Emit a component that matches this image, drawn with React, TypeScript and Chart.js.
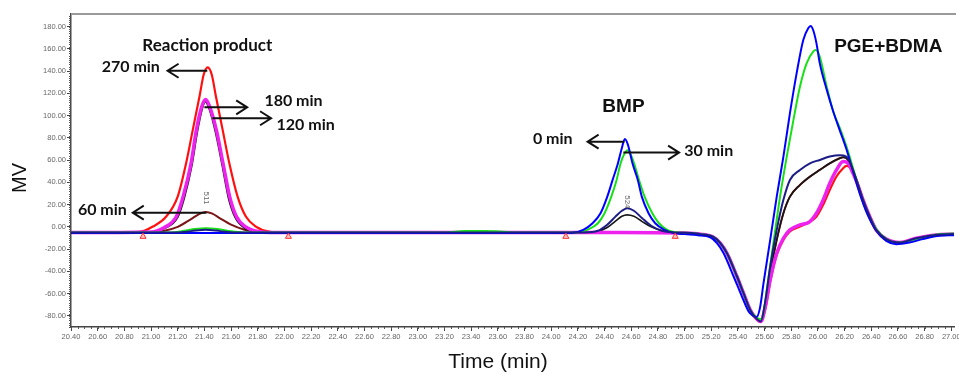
import React, { useEffect, useRef } from 'react';
import { Chart, registerables } from 'chart.js';

Chart.register(...registerables);

type Pt = [number, number];

// ---- Chromatogram traces: [time (min), signal (mV)] ----
const trace0min: Pt[] = [
  [20.4, -5.5], [21.0, -5.5], [21.4, -5.4], [21.8, -5.5], [22.4, -5.5], [23.0, -5.5], [23.6, -5.4], [24.0, -5.5],
  [24.15, -5.5], [24.24, -2.7], [24.31, 3.3], [24.37, 12.3], [24.42, 27], [24.46, 42], [24.5, 57], [24.53, 71],
  [24.552, 79], [24.575, 74], [24.61, 57], [24.65, 42], [24.68, 27], [24.73, 12.3], [24.78, 3.3], [24.85, -2.7],
  [24.92, -5.5], [25.0, -6.5], [25.1, -7.5], [25.193, -9.3], [25.243, -14.6], [25.293, -23.7], [25.368, -44.6],
  [25.43, -62.6], [25.48, -76], [25.515, -80], [25.54, -81], [25.565, -73], [25.592, -50.6], [25.642, -11.7],
  [25.691, 27.2], [25.741, 63.2], [25.79, 102.2], [25.84, 138], [25.89, 168], [25.927, 178.5], [25.945, 180.6],
  [25.964, 177], [25.989, 165], [26.014, 147], [26.064, 124], [26.114, 104], [26.163, 87], [26.213, 70],
  [26.263, 50], [26.313, 30], [26.363, 13.5], [26.437, -3.5], [26.512, -12.5], [26.587, -15.5], [26.686, -14],
  [26.786, -11], [26.91, -8], [27.02, -7.5],
];

const trace30min: Pt[] = [
  [20.4, -5], [21.15, -5], [21.25, -3.5], [21.33, -2], [21.41, -1.3], [21.5, -2], [21.6, -4], [21.7, -5],
  [22.4, -5], [23.2, -5], [23.35, -3.8], [23.5, -3.6], [23.62, -4.2], [23.75, -5], [24.2, -5], [24.27, -2.7],
  [24.35, 3.3], [24.4, 12.3], [24.45, 27], [24.49, 42], [24.52, 57], [24.55, 66], [24.572, 69], [24.6, 64],
  [24.622, 57], [24.659, 42], [24.701, 27], [24.758, 12.3], [24.808, 3.3], [24.87, -2.7], [24.95, -5],
  [25.05, -5.5], [25.12, -6.5], [25.218, -9.3], [25.268, -14.6], [25.318, -23.7], [25.393, -44.6],
  [25.442, -59.6], [25.492, -74.6], [25.535, -81], [25.575, -83], [25.595, -75], [25.616, -56.6],
  [25.666, -14.6], [25.716, 27.2], [25.766, 63.2], [25.816, 96], [25.865, 126], [25.915, 147], [25.964, 157.5],
  [25.984, 159], [26.014, 153], [26.064, 127], [26.114, 104], [26.17, 87], [26.22, 70], [26.27, 50],
  [26.32, 30], [26.37, 14], [26.44, -2.5], [26.52, -11.5], [26.6, -14], [26.7, -12], [26.8, -9], [26.91, -6.5],
  [27.02, -6],
];

const trace60min: Pt[] = [
  [20.4, -5], [21.0, -4.8], [21.1, -3.5], [21.2, 0], [21.3, 7], [21.36, 11.5], [21.41, 13.5], [21.46, 12],
  [21.52, 7.5], [21.6, 2], [21.7, -2.5], [21.8, -4.5], [21.9, -5], [22.5, -5], [24.0, -5], [24.9, -5],
  [25.05, -5.5], [25.12, -6.5], [25.218, -9.3], [25.268, -14.6], [25.318, -23.7], [25.393, -44.6],
  [25.442, -59.6], [25.492, -74.6], [25.535, -82], [25.572, -85], [25.605, -70], [25.642, -41.6],
  [25.691, -11.7], [25.741, 12.3], [25.79, 27.2], [25.865, 37.7], [25.94, 45.2], [26.014, 51.2], [26.089, 57.2],
  [26.163, 61.7], [26.189, 62.6], [26.226, 60.2], [26.263, 49.7], [26.289, 42.2], [26.338, 24.3],
  [26.388, 9.3], [26.437, -2.7], [26.512, -11], [26.612, -14], [26.736, -10.2], [26.885, -7.2], [27.02, -6.5],
];

const trace120min: Pt[] = [
  [20.4, -5], [21.0, -4.8], [21.1, -1.5], [21.2, 8.5], [21.25, 26], [21.308, 56], [21.347, 85], [21.384, 106],
  [21.407, 112.5], [21.436, 106], [21.483, 85], [21.532, 56], [21.58, 26], [21.63, 8.5], [21.7, -1],
  [21.8, -4.5], [21.9, -5], [22.4, -5], [23.0, -5], [24.0, -5], [24.25, -5], [24.35, -4], [24.42, -0.5],
  [24.48, 5], [24.53, 9.5], [24.57, 10.8], [24.62, 9.5], [24.68, 5], [24.75, 0], [24.83, -3.5], [24.92, -5],
  [25.05, -5.5], [25.12, -6.5], [25.218, -9.3], [25.268, -14.6], [25.318, -23.7], [25.393, -44.6],
  [25.442, -59.6], [25.492, -74.6], [25.535, -82], [25.572, -85], [25.605, -70], [25.642, -41.6],
  [25.691, -11.7], [25.741, 12.3], [25.79, 27.2], [25.865, 37.7], [25.94, 45.2], [26.014, 51.2], [26.089, 57.2],
  [26.163, 61.7], [26.189, 62.6], [26.226, 60.2], [26.263, 49.7], [26.289, 42.2], [26.338, 24.3],
  [26.388, 9.3], [26.437, -2.7], [26.512, -11], [26.612, -14], [26.736, -10.2], [26.885, -7.2], [27.02, -6.5],
];

const trace180min: Pt[] = [
  [20.4, -5], [21.0, -4.5], [21.1, -0.5], [21.19, 9.3], [21.24, 27], [21.3, 57], [21.34, 87], [21.38, 108],
  [21.41, 114.5], [21.44, 108], [21.49, 87], [21.54, 57], [21.59, 27], [21.64, 9.3], [21.71, 0], [21.8, -4.2],
  [21.9, -5], [22.4, -5], [23.0, -5], [24.0, -5], [24.5, -5], [25.0, -5.5], [25.12, -6.5], [25.218, -9.3],
  [25.268, -14.6], [25.318, -23.7], [25.393, -44.6], [25.442, -59.6], [25.492, -74.6], [25.535, -82],
  [25.572, -85], [25.605, -72], [25.642, -47.6], [25.691, -23.7], [25.741, -10.2], [25.79, -2.7], [25.865, 1.8],
  [25.94, 4.8], [25.989, 12.3], [26.039, 24.3], [26.089, 39.2], [26.139, 51.2], [26.189, 58.7], [26.226, 57.2],
  [26.263, 48.2], [26.289, 41], [26.338, 24.3], [26.388, 9.3], [26.437, -2.7], [26.512, -11], [26.612, -14],
  [26.736, -10.2], [26.885, -7.2], [27.02, -6.5],
];

const trace270min: Pt[] = [
  [20.4, -5], [20.8, -5], [20.915, -4.5], [21.014, 0.3], [21.114, 9.3], [21.2, 27.2], [21.263, 57.2],
  [21.313, 87.2], [21.363, 117], [21.395, 137], [21.425, 143.5], [21.455, 137], [21.487, 117], [21.537, 87.2],
  [21.587, 57.2], [21.649, 27.2], [21.711, 9.3], [21.786, 0.3], [21.885, -4.2], [22.0, -5], [22.6, -5],
  [23.2, -5], [24.0, -5], [24.6, -5], [25.0, -5.5], [25.12, -6.5], [25.218, -9.3], [25.268, -14.6],
  [25.318, -23.7], [25.393, -44.6], [25.442, -59.6], [25.492, -74.6], [25.535, -82.5], [25.572, -85.5],
  [25.605, -74], [25.642, -49], [25.691, -25], [25.741, -11.7], [25.79, -4], [25.865, 0.3], [25.94, 4.8],
  [25.989, 9.3], [26.039, 19.8], [26.089, 33.3], [26.139, 45.3], [26.189, 52.7], [26.213, 54.8],
  [26.238, 53.6], [26.276, 45.2], [26.3, 38], [26.338, 24.3], [26.388, 9.3], [26.437, -2.7], [26.512, -11],
  [26.612, -14], [26.736, -10.2], [26.885, -7.2], [27.02, -6.5],
];

const traceNavy: Pt[] = [
  [20.4, -5], [21.2, -5], [21.3, -3.8], [21.41, -2.5], [21.52, -3.8], [21.62, -5], [22.4, -5], [23.0, -5],
  [24.0, -5], [24.25, -5], [24.35, -3.5], [24.42, 2], [24.48, 9], [24.53, 14.5], [24.57, 16.8], [24.62, 14.5],
  [24.68, 8], [24.75, 1], [24.83, -3.5], [24.92, -5], [25.05, -5.5], [25.12, -6.5], [25.218, -9.3],
  [25.268, -14.6], [25.318, -23.7], [25.393, -44.6], [25.442, -59.6], [25.492, -74.6], [25.535, -82],
  [25.572, -85], [25.605, -67], [25.642, -35.7], [25.691, -2.7], [25.741, 24.3], [25.79, 42.2], [25.865, 51.2],
  [25.94, 57.2], [26.014, 60.2], [26.089, 63.2], [26.163, 64.4], [26.213, 63.2], [26.25, 55], [26.289, 42.2],
  [26.338, 24.3], [26.388, 9.3], [26.437, -2.7], [26.512, -11], [26.612, -14], [26.736, -10.2], [26.885, -7.2],
  [27.02, -6.5],
];

// integration markers (red triangles)
const markerTimes = [20.94, 22.03, 24.11, 24.93];
const markerLevel = -8.7;

// axis ticks
const xTickValues = [
  20.4, 20.6, 20.8, 21.0, 21.2, 21.4, 21.6, 21.8, 22.0, 22.2, 22.4, 22.6, 22.8, 23.0, 23.2, 23.4, 23.6,
  23.8, 24.0, 24.2, 24.4, 24.6, 24.8, 25.0, 25.2, 25.4, 25.6, 25.8, 26.0, 26.2, 26.4, 26.6, 26.8, 27.0,
];
const yTickValues = [-80, -60, -40, -20, 0, 20, 40, 60, 80, 100, 120, 140, 160, 180];

// annotations (data coordinates)
const groupLabels = ['Reaction product', 'BMP', 'PGE+BDMA'];
const groupLabelAt: Pt[] = [[21.422, 163.5], [24.542, 108.1], [26.527, 161.7]];

const arrowLabels = ['270 min', '180 min', '120 min', '60 min', '0 min', '30 min'];
const arrowTail: Pt[] = [[21.422, 140.4], [21.4, 107.5], [21.46, 97.7], [21.415, 12.8], [24.549, 76.6], [24.541, 66.8]];
const arrowHead: Pt[] = [[21.124, 140.4], [21.721, 107.5], [21.9, 97.7], [20.863, 12.8], [24.273, 76.6], [24.959, 66.8]];
const arrowLabelAt: Pt[] = [[20.848, 144], [22.068, 113.5], [22.159, 91.6], [20.635, 15.3], [24.012, 78.8], [25.181, 68.6]];

const peakIds = ['511', '524'];
const peakIdAt: Pt[] = [[21.415, 26], [24.57, 22.5]];

const annotationPlugin = {
  id: 'chromAnnotations',
  beforeDatasetsDraw(chart: any) {
    const { ctx, chartArea, scales } = chart;
    const xs = scales.x;
    const ys = scales.y;
    ctx.save();
    // top frame line
    ctx.strokeStyle = '#9a9a9a';
    ctx.lineWidth = 2;
    ctx.beginPath();
    ctx.moveTo(chartArea.left, chartArea.top);
    ctx.lineTo(chartArea.right + 2, chartArea.top);
    ctx.stroke();
    // minor ticks
    ctx.strokeStyle = '#555';
    ctx.lineWidth = 1;
    ctx.beginPath();
    for (let i = 0; i <= 132; i++) {
      const v = 20.4 + i * 0.05;
      const px = Math.round(xs.getPixelForValue(v)) + 0.5;
      ctx.moveTo(px, chartArea.bottom);
      ctx.lineTo(px, chartArea.bottom + 2);
    }
    for (let v = -90; v <= 190; v += 2) {
      const py = Math.round(ys.getPixelForValue(v)) + 0.5;
      ctx.moveTo(chartArea.left, py);
      ctx.lineTo(chartArea.left - 2, py);
    }
    ctx.stroke();
    ctx.restore();
  },
  afterDatasetsDraw(chart: any) {
    const { ctx, chartArea, scales } = chart;
    const xs = scales.x;
    const ys = scales.y;
    const X = (v: number) => xs.getPixelForValue(v);
    const Y = (v: number) => ys.getPixelForValue(v);
    ctx.save();
    ctx.textAlign = 'center';
    ctx.textBaseline = 'middle';
    ctx.fillStyle = '#111';

    // group labels
    groupLabels.forEach((t, i) => {
      ctx.font = i === 0 ? 'bold 17px Lato' : 'bold 19px "Liberation Sans"';
      ctx.fillText(t, X(groupLabelAt[i][0]), Y(groupLabelAt[i][1]));
    });

    // arrows + time labels
    ctx.strokeStyle = '#111';
    ctx.lineWidth = 2;
    arrowLabels.forEach((t, i) => {
      const x1 = X(arrowTail[i][0]);
      const y1 = Y(arrowTail[i][1]);
      const x2 = X(arrowHead[i][0]);
      const y2 = Y(arrowHead[i][1]);
      const d = Math.sign(x2 - x1);
      ctx.beginPath();
      ctx.moveTo(x1, y1);
      ctx.lineTo(x2, y2);
      ctx.moveTo(x2 - d * 11, y2 - 7);
      ctx.lineTo(x2, y2);
      ctx.lineTo(x2 - d * 11, y2 + 7);
      ctx.stroke();
      ctx.font = 'bold 16px Lato';
      ctx.fillText(t, X(arrowLabelAt[i][0]), Y(arrowLabelAt[i][1]));
    });

    // peak ids (rotated)
    ctx.fillStyle = '#666';
    ctx.font = '8px "Liberation Sans"';
    peakIds.forEach((t, i) => {
      ctx.save();
      ctx.translate(X(peakIdAt[i][0]), Y(peakIdAt[i][1]));
      ctx.rotate(Math.PI / 2);
      ctx.fillText(t, 0, 0);
      ctx.restore();
    });

    // axis titles
    ctx.fillStyle = '#111';
    ctx.font = '21px "Liberation Sans"';
    ctx.fillText('Time (min)', chartArea.left + 427, chartArea.bottom + 35);
    ctx.save();
    ctx.translate(20, chartArea.top + 164);
    ctx.rotate(-Math.PI / 2);
    ctx.font = '20px "Liberation Sans"';
    ctx.fillText('MV', 0, 0);
    ctx.restore();
    ctx.restore();
  },
};

const toXY = (arr: Pt[]) => arr.map(([x, y]) => ({ x, y }));

export default function App() {
  const canvasRef = useRef<HTMLCanvasElement | null>(null);

  useEffect(() => {
    document.body.style.margin = '0';
    const canvas = canvasRef.current;
    if (!canvas) return;
    Chart.defaults.font.family = '"Liberation Sans", Arial, sans-serif';

    const line = (label: string, data: Pt[], color: string, width: number) => ({
      type: 'line' as const,
      label,
      data: toXY(data),
      borderColor: color,
      backgroundColor: color,
      borderWidth: width,
      pointRadius: 0,
      fill: false,
      cubicInterpolationMode: 'monotone' as const,
    });

    // earlier datasets are drawn on top
    const chart = new Chart(canvas, {
      type: 'line',
      data: {
        datasets: [
          {
            type: 'scatter' as const,
            label: 'integration marks',
            data: markerTimes.map((t) => ({ x: t, y: markerLevel })),
            pointStyle: 'triangle',
            pointRadius: 3.5,
            borderColor: '#ff3030',
            backgroundColor: 'rgba(255,160,160,0.6)',
            borderWidth: 1,
            showLine: false,
          } as any,
          line('trace 7', traceNavy, '#1c1c86', 2),
          line('0 min', trace0min, '#0000ff', 2),
          line('30 min', trace30min, '#18e018', 2),
          line('180 min', trace180min, '#ee22ee', 3.5),
          line('120 min', trace120min, '#161616', 1.6),
          line('60 min', trace60min, '#7a1616', 2),
          line('270 min', trace270min, '#ff1010', 2.2),
        ],
      },
      options: {
        animation: false,
        responsive: true,
        maintainAspectRatio: false,
        layout: { padding: { left: 0, right: 1, top: 14, bottom: 0 } },
        plugins: {
          legend: { display: false },
          tooltip: { enabled: false },
        },
        scales: {
          x: {
            type: 'linear',
            min: 20.4,
            max: 27.02,
            afterBuildTicks: (scale: any) => {
              scale.ticks = xTickValues.map((value) => ({ value }));
            },
            afterFit: (scale: any) => {
              scale.height = 48;
              scale.paddingLeft = 0;
              scale.paddingRight = 0;
            },
            ticks: {
              autoSkip: false,
              maxRotation: 0,
              minRotation: 0,
              padding: 1,
              color: '#666',
              font: { size: 7.5 },
              callback: (v: any) => Number(v).toFixed(2),
            },
            grid: { drawOnChartArea: false, drawTicks: true, tickLength: 4, color: '#444' },
            border: { display: true, color: '#444', width: 1.5 },
          },
          y: {
            type: 'linear',
            min: -90,
            max: 191.4,
            afterBuildTicks: (scale: any) => {
              scale.ticks = yTickValues.map((value) => ({ value }));
            },
            afterFit: (scale: any) => {
              scale.width = 71;
              scale.paddingTop = 0;
              scale.paddingBottom = 0;
            },
            ticks: {
              padding: 1,
              color: '#666',
              font: { size: 7.5 },
              callback: (v: any) => Number(v).toFixed(2),
            },
            grid: { drawOnChartArea: false, drawTicks: true, tickLength: 4, color: '#444' },
            border: { display: true, color: '#444', width: 1.5 },
          },
        },
      },
      plugins: [annotationPlugin],
    });

    return () => chart.destroy();
  }, []);

  return (
    <div style={{ position: 'relative', width: 959, height: 375 }}>
      <canvas ref={canvasRef} />
    </div>
  );
}
